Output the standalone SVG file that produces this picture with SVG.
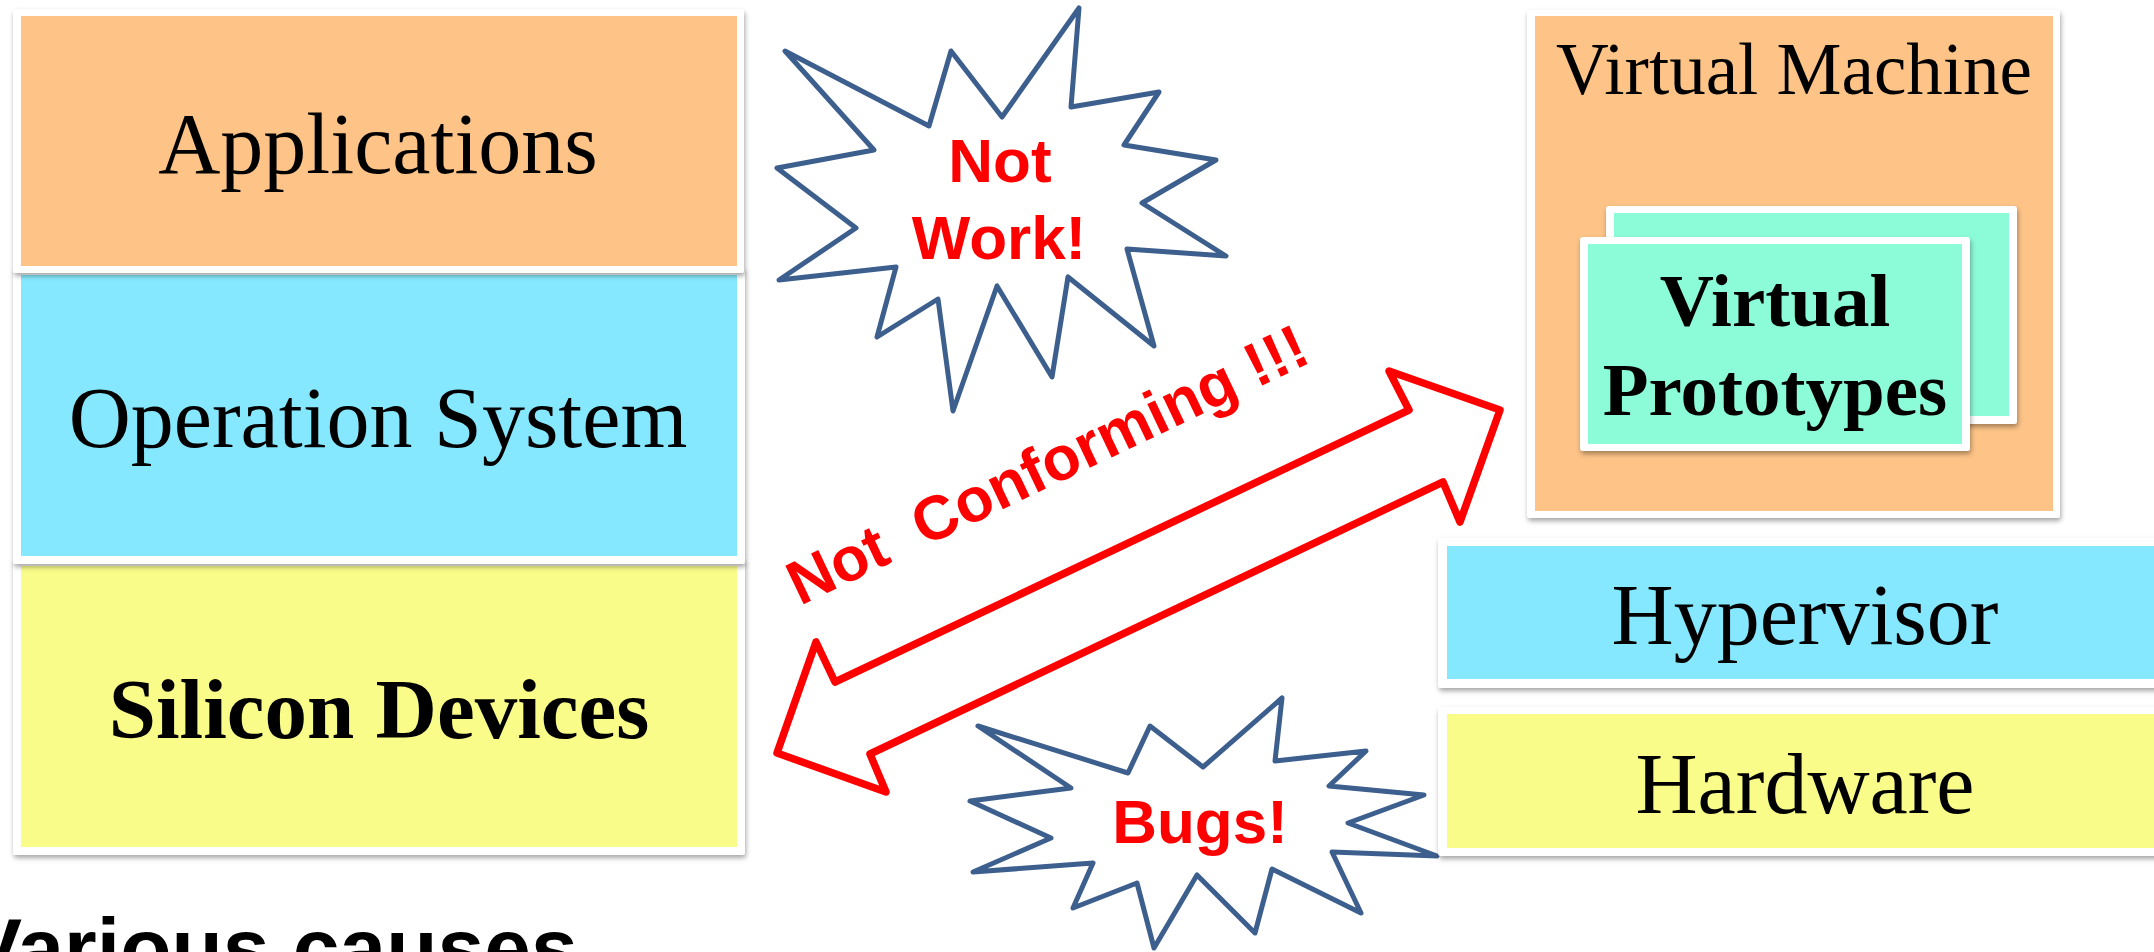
<svg xmlns="http://www.w3.org/2000/svg" width="2154" height="952" viewBox="0 0 2154 952">
  <defs>
    <filter id="shadow" x="-5%" y="-5%" width="110%" height="115%">
      <feDropShadow dx="1" dy="3" stdDeviation="2.5" flood-color="#000" flood-opacity="0.35"/>
    </filter>
  </defs>
  <style>
    .frame { fill: #ffffff; filter: url(#shadow); }
    .orange { fill: #FDC387; }
    .blue { fill: #86E8FE; }
    .yellow { fill: #F9FC88; }
    .mint { fill: #8CFBD8; }
    .serif { font-family: "Liberation Serif", "Times New Roman", serif; fill: #000; text-anchor: middle; }
    .bold { font-weight: bold; }
    .star { fill: #ffffff; stroke: #3D5F8E; stroke-width: 5; stroke-linejoin: round; }
    .alert { font-family: "Liberation Sans", Arial, sans-serif; font-weight: bold; fill: #FF0000; text-anchor: middle; }
    .alert-start { font-family: "Liberation Sans", Arial, sans-serif; font-weight: bold; fill: #FF0000; text-anchor: start; }
    .arrow { fill: none; stroke: #FF0000; stroke-width: 7.5; stroke-linejoin: round; }
  </style>

  <rect width="2154" height="952" fill="#ffffff"/>

  <!-- Left stack: drawn bottom-up so each upper layer casts its shadow on the one below -->
  <g id="silicon-devices">
    <rect class="frame" x="13" y="559" width="732" height="296" rx="3"/>
    <rect class="yellow" x="21" y="566" width="716" height="281"/>
    <text class="serif bold" x="379" y="738" font-size="85">Silicon Devices</text>
  </g>

  <g id="operation-system">
    <rect class="frame" x="13" y="268" width="732" height="296" rx="3"/>
    <rect class="blue" x="21" y="275" width="716" height="281"/>
    <text class="serif" x="378" y="447" font-size="86">Operation System</text>
  </g>

  <g id="applications">
    <rect class="frame" x="13" y="9" width="731" height="264" rx="3"/>
    <rect class="orange" x="21" y="16" width="716" height="250"/>
    <text class="serif" x="378" y="173" font-size="86">Applications</text>
  </g>

  <!-- Right stack -->
  <g id="virtual-machine">
    <rect class="frame" x="1527" y="10" width="533" height="508" rx="3"/>
    <rect class="orange" x="1535" y="16" width="518" height="495"/>
    <text class="serif" x="1794" y="94" font-size="73">Virtual Machine</text>
  </g>

  <g id="virtual-prototypes">
    <rect class="frame" x="1606" y="206" width="411" height="218" rx="3"/>
    <rect class="mint" x="1614" y="213" width="395" height="203"/>
    <rect class="frame" x="1580" y="237" width="390" height="214" rx="3"/>
    <rect class="mint" x="1588" y="244" width="374" height="200"/>
    <text class="serif bold" x="1775" y="326" font-size="75">Virtual</text>
    <text class="serif bold" x="1775" y="415" font-size="75">Prototypes</text>
  </g>

  <g id="hypervisor">
    <rect class="frame" x="1438" y="538" width="730" height="150" rx="3"/>
    <rect class="blue" x="1447" y="546" width="720" height="133"/>
    <text class="serif" x="1805" y="644" font-size="86">Hypervisor</text>
  </g>

  <!-- Bugs burst sits behind the hardware layer -->
  <g id="bugs">
    <polygon class="star" points="978,726 1128,773 1150,726 1203,767 1282,698 1275,761 1366,751 1329,786 1424,795 1348,823 1437,856 1332,852 1361,913 1272,869 1255,933 1197,875 1154,948 1137,883 1073,908 1093,863 973,872 1051,838 970,801 1071,788"/>
    <text class="alert" x="1200" y="843" font-size="62">Bugs!</text>
  </g>

  <g id="hardware">
    <rect class="frame" x="1438" y="707" width="730" height="149" rx="3"/>
    <rect class="yellow" x="1447" y="714" width="720" height="134"/>
    <text class="serif" x="1805" y="813" font-size="86">Hardware</text>
  </g>

  <!-- Not Work burst -->
  <g id="not-work">
    <polygon class="star" points="785,51 929,126 951,51 1002,117 1079,8 1071,107 1159,92 1124,145 1216,160 1142,203 1226,256 1127,249 1154,346 1068,277 1052,377 997,286 953,411 938,299 877,337 896,267 779,280 856,228 777,168 874,150"/>
    <text class="alert" x="1000" y="182" font-size="62">Not</text>
    <text class="alert" x="999" y="259" font-size="62">Work!</text>
  </g>

  <!-- Connector: double-headed block arrow between the two stacks -->
  <g id="connectors">
    <polygon class="arrow" points="1500,410 1389,371 1409,410 835,682 816,642 777,753 886,792 870,754 1443,482 1460,522"/>
  </g>

  <g id="not-conforming">
    <text class="alert-start" x="800" y="606" font-size="62" transform="rotate(-25.5 800 606)" xml:space="preserve">Not  Conforming !!!</text>
  </g>

  <g id="various-causes">
    <text x="-34" y="977" font-family="Liberation Sans, Arial, sans-serif" font-weight="bold" font-size="84" fill="#000">Various causes</text>
  </g>
</svg>
